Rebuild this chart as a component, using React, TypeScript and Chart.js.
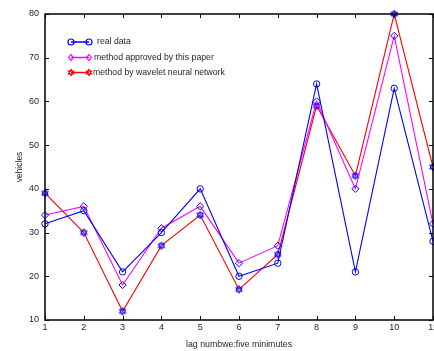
import React, { useEffect, useRef } from "react";
import { Chart, registerables } from "chart.js";

Chart.register(...registerables);

const lags = [1, 2, 3, 4, 5, 6, 7, 8, 9, 10, 11];
const realData = [32, 35, 21, 30, 40, 20, 23, 64, 21, 63, 28];
const approvedMethod = [34, 36, 18, 31, 36, 23, 27, 60, 40, 75, 32];
const waveletMethod = [39, 30, 12, 27, 34, 17, 25, 59, 43, 80, 45];
const yTicks = [10, 20, 30, 40, 50, 60, 70, 80];
const seriesNames = [
  "real data",
  "method approved by this paper",
  "method by wavelet neural network",
];
const seriesColors = ["#0000ff", "#ff00ff", "#ff0000"];
const seriesStyles = ["circle", "rectRot", "hexagram"];
const xTitle = "lag numbwe:five minimutes";
const yTitle = "vehicles";

const FONT = "'Liberation Sans', Arial, Helvetica, sans-serif";
const TEXT = "#262626";

function hexagramPath(ctx: CanvasRenderingContext2D, x: number, y: number, r: number) {
  for (let t = 0; t < 2; t++) {
    const base = t === 0 ? -Math.PI / 2 : Math.PI / 2;
    for (let k = 0; k < 3; k++) {
      const a = base + (k * 2 * Math.PI) / 3;
      const px = x + Math.cos(a) * r;
      const py = y + Math.sin(a) * r;
      if (k === 0) ctx.moveTo(px, py);
      else ctx.lineTo(px, py);
    }
    ctx.closePath();
  }
}

function drawMarker(ctx: CanvasRenderingContext2D, style: string, x: number, y: number, r: number) {
  ctx.beginPath();
  if (style === "circle") {
    ctx.arc(x, y, r, 0, Math.PI * 2);
  } else if (style === "rectRot") {
    ctx.moveTo(x, y - r);
    ctx.lineTo(x + r * 0.8, y);
    ctx.lineTo(x, y + r);
    ctx.lineTo(x - r * 0.8, y);
    ctx.closePath();
  } else {
    hexagramPath(ctx, x, y, r);
  }
  ctx.stroke();
}

function makeHexagramImage(color: string) {
  const c = document.createElement("canvas");
  c.width = 10;
  c.height = 10;
  const g = c.getContext("2d")!;
  g.strokeStyle = color;
  g.lineWidth = 1;
  g.beginPath();
  hexagramPath(g, 5, 5, 3.8);
  g.stroke();
  return c;
}

const framePlugin = {
  id: "matlabFrame",
  afterDraw(chart: any) {
    const { ctx, chartArea, scales } = chart;
    const { left, right, top, bottom } = chartArea;
    ctx.save();
    // box
    ctx.strokeStyle = "#000";
    ctx.lineWidth = 1.5;
    ctx.strokeRect(left, top, right - left, bottom - top);
    // inward ticks
    ctx.lineWidth = 1;
    ctx.beginPath();
    lags.forEach((v) => {
      const px = Math.round(scales.x.getPixelForValue(v)) + 0.5;
      ctx.moveTo(px, bottom);
      ctx.lineTo(px, bottom - 4);
      ctx.moveTo(px, top);
      ctx.lineTo(px, top + 4);
    });
    yTicks.forEach((v) => {
      const py = Math.round(scales.y.getPixelForValue(v)) + 0.5;
      ctx.moveTo(left, py);
      ctx.lineTo(left + 4, py);
      ctx.moveTo(right, py);
      ctx.lineTo(right - 4, py);
    });
    ctx.stroke();
    // x tick labels
    ctx.fillStyle = TEXT;
    ctx.font = `9px ${FONT}`;
    ctx.textAlign = "center";
    ctx.textBaseline = "middle";
    lags.forEach((v) => {
      ctx.fillText(String(v), scales.x.getPixelForValue(v), bottom + 8);
    });
    // titles
    ctx.font = `8.8px ${FONT}`;
    ctx.fillText(xTitle, (left + right) / 2, 345);
    ctx.save();
    ctx.translate(20, (top + bottom) / 2);
    ctx.rotate(-Math.PI / 2);
    ctx.font = `8.5px ${FONT}`;
    ctx.fillText(yTitle, 0, 0);
    ctx.restore();
    // legend
    const ys = [42, 57.5, 72.5];
    const tx = [97, 94, 93];
    seriesNames.forEach((name, i) => {
      const y = ys[i];
      ctx.strokeStyle = seriesColors[i];
      ctx.lineWidth = 1.5;
      ctx.beginPath();
      ctx.moveTo(71, y);
      ctx.lineTo(89, y);
      ctx.stroke();
      ctx.lineWidth = 1.2;
      drawMarker(ctx, seriesStyles[i], 71, y, 3);
      drawMarker(ctx, seriesStyles[i], 89, y, 3);
      ctx.fillStyle = TEXT;
      ctx.font = `8.7px ${FONT}`;
      ctx.textAlign = "left";
      ctx.textBaseline = "middle";
      ctx.fillText(name, tx[i], y);
    });
    ctx.restore();
  },
};

export default function App() {
  const ref = useRef<HTMLCanvasElement | null>(null);
  useEffect(() => {
    if (!ref.current) return;
    const series = [realData, approvedMethod, waveletMethod];
    const hexImg = makeHexagramImage("#0000ff");
    const chart = new Chart(ref.current, {
      type: "line",
      data: {
        datasets: series.map((vals, i) => ({
          label: seriesNames[i],
          data: lags.map((x, j) => ({ x, y: vals[j] })),
          borderColor: seriesColors[i],
          borderWidth: 1.1,
          backgroundColor: "transparent",
          pointStyle: (i === 2 ? hexImg : seriesStyles[i]) as any,
          pointRadius: i === 0 ? 3.2 : i === 1 ? 3.6 : 4,
          pointBorderColor: "#0000ff",
          pointBackgroundColor: "transparent",
          pointBorderWidth: 1,
          tension: 0,
          clip: false as any,
          order: i,
        })),
      },
      options: {
        animation: false,
        responsive: false,
        devicePixelRatio: 1,
        layout: { autoPadding: false, padding: { top: 14, right: 1, left: 0, bottom: 0 } },
        plugins: { legend: { display: false }, tooltip: { enabled: false } },
        scales: {
          x: {
            type: "linear",
            min: 1,
            max: 11,
            grid: { display: false, drawTicks: false },
            border: { display: false },
            ticks: {
              stepSize: 1,
              callback: () => "",
              maxRotation: 0,
              autoSkip: false,
            },
            afterFit(scale: any) {
              scale.height = 31;
              scale.paddingLeft = 0;
              scale.paddingRight = 0;
            },
          },
          y: {
            min: 10,
            max: 80,
            grid: { display: false, drawTicks: false },
            border: { display: false },
            ticks: {
              stepSize: 10,
              padding: 6,
              color: TEXT,
              font: { family: FONT, size: 9 },
            },
            afterFit(scale: any) {
              scale.width = 45;
              scale.paddingTop = 0;
              scale.paddingBottom = 0;
            },
          },
        },
      },
      plugins: [framePlugin],
    });
    return () => chart.destroy();
  }, []);
  return (
    <div style={{ position: "absolute", left: 0, top: 0, width: 434, height: 351, overflow: "hidden", background: "#fff" }}>
      <canvas ref={ref} width={434} height={351} />
    </div>
  );
}
